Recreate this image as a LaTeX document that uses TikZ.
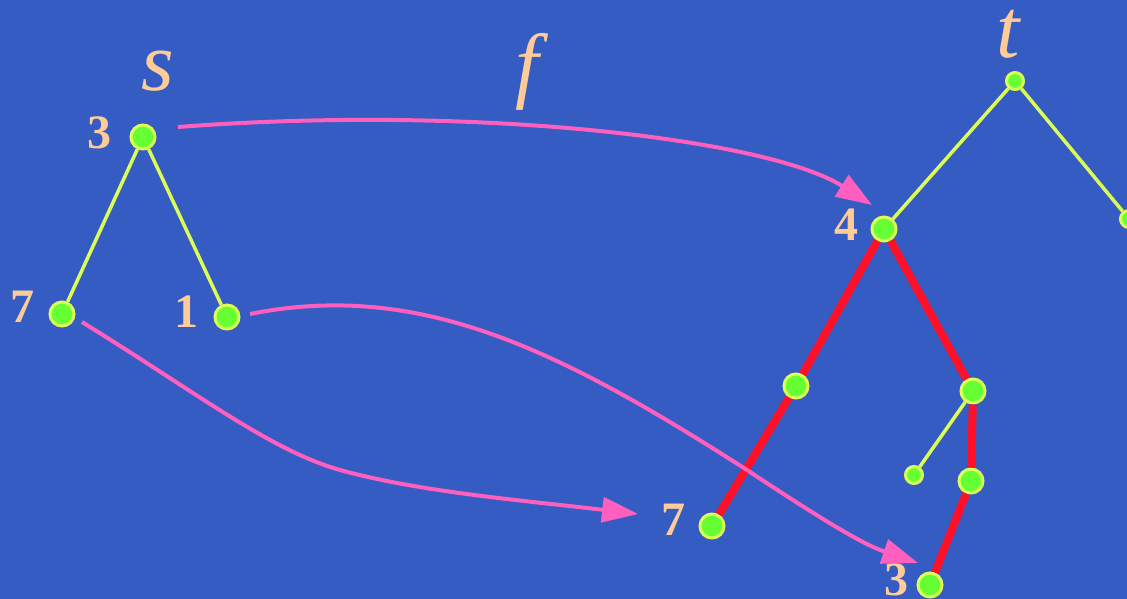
\documentclass[tikz,border=0pt]{standalone}
\usepackage{fontspec}
\setmainfont{Liberation Serif}
\usepackage{tikz}
\usetikzlibrary{arrows.meta}
\usepackage{xcolor}

\definecolor{slide}{HTML}{345CC2}
\definecolor{leaf}{HTML}{66FF33}
\definecolor{rim}{HTML}{DDFF55}
\definecolor{hotpath}{HTML}{FF1028}
\definecolor{mapcol}{HTML}{FF5FBF}
\definecolor{peach}{HTML}{FFCC99}

\begin{document}
\begin{tikzpicture}[x=1pt, y=-1pt,
   vert/.style={circle, fill=leaf, draw=rim, line width=3pt, minimum size=24pt, inner sep=0pt},
   smallvert/.style={vert, minimum size=17pt},
   num/.style={text=peach, font=\fontsize{48}{54}\selectfont\bfseries, inner sep=0pt},
   letter/.style={text=peach, font=\fontsize{84}{90}\selectfont\itshape, inner sep=0pt},
   treeedge/.style={draw=rim, line width=3.5pt},
   rededge/.style={draw=hotpath, line width=8pt},
   maparrow/.style={draw=mapcol, line width=4pt, -{Triangle[length=36pt, width=25pt]}}]
   \fill[slide] (0,0) rectangle (1127,599);
   \useasboundingbox (0,0) rectangle (1127,599);

   % tree s
   \node[vert] (s_3) at (143,137) {};
   \node[vert] (s_7) at (62,314) {};
   \node[vert] (s_1) at (227,317) {};

   % tree t
   \node[smallvert] (t_0) at (1015,81) {};
   \node[vert] (t_4) at (884,229) {};
   \node[smallvert] (t_r) at (1129,219) {};
   \node[vert] (t_a) at (796,386) {};
   \node[vert] (t_7) at (712,526) {};
   \node[vert] (t_c) at (973,391) {};
   \node[smallvert] (t_d) at (914,475) {};
   \node[vert] (t_e) at (971,481) {};
   \node[vert] (t_3) at (930,585) {};

   % labels
   \node[letter] (l_s) at (158,71) {s};
   \node[letter] (l_t) at (1008,34) {t};
   \node[letter] (l_f) at (527,72) {f};
   \node[num] (n_s3) at (99,133) {3};
   \node[num] (n_s7) at (22,307) {7};
   \node[num] (n_s1) at (186,312) {1};
   \node[num] (n_t4) at (846,225) {4};
   \node[num] (n_t7) at (673,520) {7};
   \node[num] (n_t3) at (896,580) {3};

   \path[treeedge]
   (s_3) edge (s_7)
   (s_3) edge (s_1)
   (t_0) edge (t_4)
   (t_0) edge (t_r)
   (t_c) edge (t_d);

   \path[rededge]
   (t_4) edge (t_a)
   (t_a) edge (t_7)
   (t_4) edge (t_c)
   (t_c) edge (t_e)
   (t_e) edge (t_3);

   % the map f
   \draw[maparrow] ([xshift=35pt,yshift=10pt]s_3.center) .. controls (480,104) and (770,140) .. ([xshift=-12pt,yshift=24pt]t_4.center);
   \draw[maparrow] ([xshift=23pt,yshift=3pt]s_1.center) .. controls (420,280) and (560,350) .. (747,470)
      .. controls (830,525) and (865,545) .. ([xshift=-12pt,yshift=22pt]t_3.center);
   \draw[maparrow] ([xshift=20pt,yshift=-8pt]s_7.center) .. controls (200,395) and (270,450) .. (340,470)
      .. controls (420,492) and (520,500) .. ([xshift=-74pt,yshift=12pt]t_7.center);
\end{tikzpicture}
\end{document}
